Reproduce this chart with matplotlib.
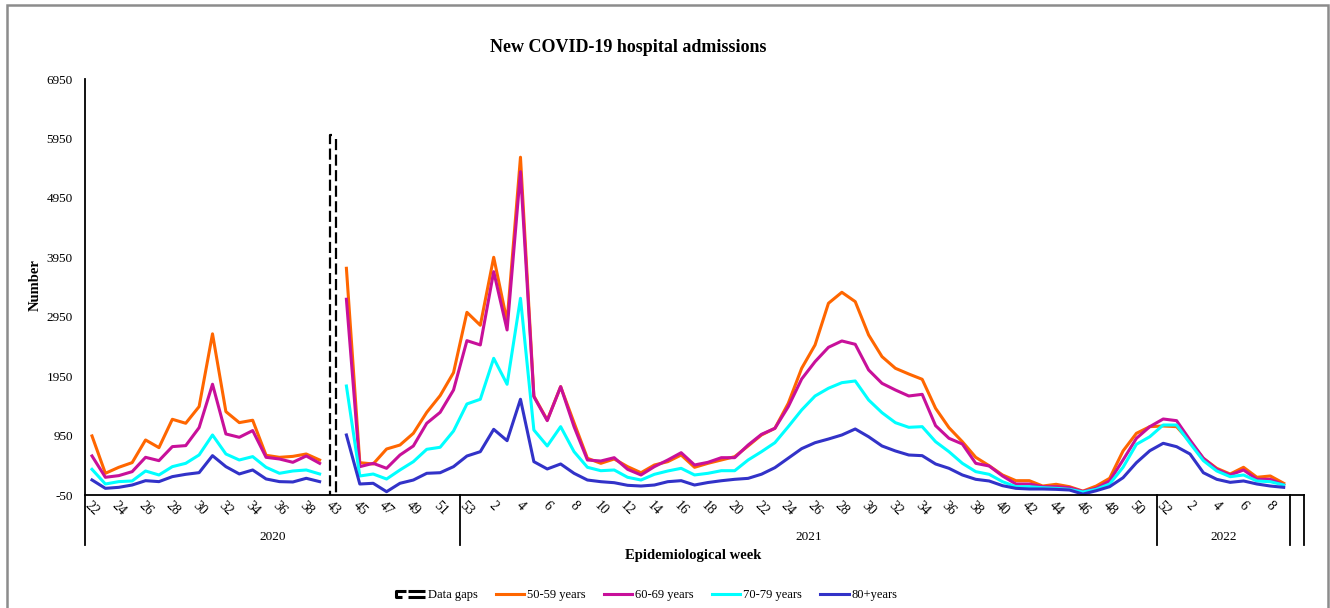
"""
New COVID-19 hospital admissions by age group, weekly line chart
"""

import numpy as np
import matplotlib
matplotlib.use('Agg')
import matplotlib.pyplot as plt
from matplotlib.lines import Line2D
from matplotlib.legend_handler import HandlerBase
from matplotlib.patches import Rectangle

plt.rcParams['font.family'] = ['Liberation Serif', 'DejaVu Serif']
plt.rcParams['axes.unicode_minus'] = False

# ---- data ----
weeks_2020 = list(range(22, 40)) + [43] + list(range(44, 54))
weeks_2021 = list(range(1, 53))
weeks_2022 = list(range(1, 10))
week_labels = [str(w) for w in weeks_2020 + weeks_2021 + weeks_2022] + ['']

# second level of the category axis (number of weeks under each year)
year_labels = ['2020', '2021', '2022', '']
year_spans = [28, 52, 10, 1]

gap_week = 43      # no data reported here
gap_top = 6000

nan = np.nan
age_50_59 = [944, 315, 416, 495, 876, 747, 1224, 1157, 1438, 2662, 1353, 1168, 1208, 618, 584, 600, 640, 539,
             nan,
             3765, 494, 472, 724, 791, 988, 1341, 1622, 2009, 3024,
             2806, 3950, 2870, 5634, 1616, 1212, 1773, 1167, 568, 483,
             556, 427, 325, 455, 511, 623, 416, 483, 539, 595,
             775, 960, 1072, 1493, 2082, 2475, 3176, 3361, 3204, 2643,
             2278, 2082, 1986, 1897, 1409, 1083, 847, 584, 443, 287,
             191, 191, 101, 130, 90, 15, 101, 231, 691, 988,
             1100, 1111,
             1100, 847, 568, 399, 303, 416, 248, 270, 147,
             nan]
age_60_69 = [607, 248, 276, 343, 584, 528, 764, 781, 1084, 1814, 977, 921, 1034, 584, 556, 500, 607, 483,
             nan,
             3244, 427, 483, 399, 623, 775, 1157, 1341, 1717, 2547,
             2475, 3708, 2727, 5391, 1605, 1201, 1773, 1100, 539, 522,
             578, 382, 287, 427, 539, 662, 455, 500, 578, 578,
             791, 971, 1072, 1436, 1902, 2194, 2435, 2542, 2486, 2054,
             1829, 1717, 1616, 1644, 1117, 904, 808, 483, 438, 270,
             135, 135, 90, 90, 73, 10, 63, 186, 539, 904,
             1100, 1229,
             1201, 876, 568, 382, 287, 371, 214, 214, 118,
             nan]
age_70_79 = [382, 135, 175, 186, 354, 287, 427, 483, 624, 960, 640, 539, 596, 416, 315, 354, 371, 304,
             nan,
             1784, 270, 303, 219, 371, 511, 719, 753, 1027, 1482,
             1561, 2250, 1813, 3260, 1044, 775, 1100, 679, 416, 359,
             371, 248, 202, 298, 354, 399, 287, 315, 359, 359,
             539, 679, 830, 1100, 1381, 1616, 1746, 1840, 1869, 1549,
             1335, 1167, 1089, 1100, 847, 679, 483, 343, 298, 174,
             90, 90, 73, 62, 45, 0, 45, 135, 416, 803,
             931, 1128,
             1128, 820, 528, 354, 258, 287, 186, 174, 118,
             nan]
age_80_plus = [203, 62, 79, 118, 191, 175, 259, 298, 326, 612, 427, 304, 371, 220, 175, 169, 231, 175,
               nan,
               960, 135, 147, 6, 147, 202, 315, 325, 427, 606,
               679, 1055, 864, 1561, 511, 388, 472, 315, 202, 174,
               157, 113, 101, 118, 174, 191, 118, 160, 190, 214,
               230, 300, 410, 570, 730, 830, 892, 960, 1061, 930,
               775, 691, 623, 612, 472, 399, 287, 214, 186, 107,
               62, 51, 51, 45, 34, -35, 22, 90, 241, 494,
               695, 820,
               763, 640, 325, 214, 163, 186, 135, 101, 79,
               nan]

series = [(age_50_59, '50-59 years', '#FF6600'),
          (age_60_69, '60-69 years', '#C8109A'),
          (age_70_79, '70-79 years', '#00FFFF'),
          (age_80_plus, '80+years', '#3232C8')]


class GapHandler(HandlerBase):
    # legend glyph for the double dashed "data gaps" marker
    def create_artists(self, legend, orig_handle, xdescent, ydescent,
                       width, height, fontsize, trans):
        x0, y0 = -xdescent, -ydescent
        top, bot = y0 + height * 0.85, y0 + height * 0.15
        kw = dict(color='black', lw=2.2, transform=trans, solid_capstyle='butt')
        bracket = Line2D([x0 + width * 0.34, x0, x0, x0 + width * 0.2], [top, top, bot, bot], **kw)
        bar1 = Line2D([x0 + width * 0.42, x0 + width], [top, top], **kw)
        bar2 = Line2D([x0 + width * 0.42, x0 + width], [bot, bot], **kw)
        return [bracket, bar1, bar2]


fig = plt.figure(figsize=(13.3, 6.08), dpi=100)
ax = fig.add_axes([85.3 / 1330, 1 - 495 / 608, 1218.5 / 1330, 416 / 608])

x = np.arange(len(week_labels))
handles = []
for vals, label, color in series:
    line, = ax.plot(x, vals, color=color, lw=2.2, label=label)
    handles.append(line)

ymin, ymax = -50, 6950
ax.set_xlim(-0.5, len(week_labels) - 0.5)
ax.set_ylim(ymin, ymax)
ax.set_yticks(np.arange(ymin, ymax + 1, 1000))
ax.set_xticks(x[::2])
ax.set_xticklabels(week_labels[::2], rotation=-45, ha='center')
ax.tick_params(axis='x', length=0, pad=3, labelsize=10)
ax.tick_params(axis='y', length=0, pad=9, labelsize=9.5)
for side in ['top', 'right']:
    ax.spines[side].set_visible(False)
for side in ['left', 'bottom']:
    ax.spines[side].set_linewidth(1.3)

# data gap: two dashed vertical lines
gi = week_labels.index(str(gap_week))
lx, rx = gi - 0.22, gi + 0.23
ax.plot([lx + 0.12, lx, lx], [gap_top, gap_top, ymin], color='black', lw=1.6, ls=(0, (5, 2)), clip_on=False)
ax.plot([rx, rx], [gap_top - 60, ymin], color='black', lw=1.6, ls=(0, (5, 2)), clip_on=False)

# year level of the axis
trans = ax.get_xaxis_transform()
edges = np.cumsum([0] + year_spans) - 0.5
for e in edges:
    ax.plot([e, e], [0, -0.12], transform=trans, color='black', lw=1.3, clip_on=False)
for label, lo, hi in zip(year_labels, edges[:-1], edges[1:]):
    ax.text((lo + hi) / 2, -0.101, label, transform=trans, ha='center', va='center', fontsize=9.5)

fig.text(628 / 1330, 1 - 48 / 608, 'New COVID-19 hospital admissions',
         ha='center', va='center', fontsize=13, fontweight='bold')
fig.text(35 / 1330, 1 - 285 / 608, 'Number', rotation=90,
         ha='center', va='center', fontsize=10.5, fontweight='bold')
fig.text(693 / 1330, 1 - 556 / 608, 'Epidemiological week',
         ha='center', va='center', fontsize=10.5, fontweight='bold')

gap_proxy = Line2D([], [], color='black')
fig.legend([gap_proxy] + handles, ['Data gaps'] + [s[1] for s in series],
           handler_map={gap_proxy: GapHandler()},
           loc='center', bbox_to_anchor=(647 / 1330, 1 - 595 / 608), ncol=5,
           frameon=False, fontsize=9, handlelength=2.3, handletextpad=0.25,
           columnspacing=1.4)

# grey frame round the whole chart
fig.patches.append(Rectangle((7 / 1330, -0.1), 1321 / 1330, 0.1 + 1 - 5 / 608,
                             transform=fig.transFigure, fill=False,
                             edgecolor='#8c8c8c', lw=1.8))

fig.savefig('out.png', dpi=100)
plt.close(fig)
